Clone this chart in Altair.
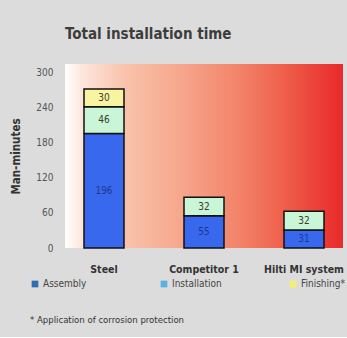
import altair as alt
import pandas as pd

FONT = "Liberation Sans Narrow, DejaVu Sans Condensed, sans-serif"

categories = ["Steel", "Competitor 1", "Hilti MI system"]
segments = ["Assembly", "Installation", "Finishing*"]
assembly = [196, 55, 31]
installation = [46, 32, 32]
finishing = [30, None, None]

bar_colors = ["#3768ee", "#c9f6d6", "#f8f4a2"]
legend_colors = ["#2f6eb5", "#55b3df", "#f6ee6e"]
y_ticks = [0, 60, 120, 180, 240, 300]

rows = []
for i, c in enumerate(categories):
    for j, (seg, vals) in enumerate(zip(segments, [assembly, installation, finishing])):
        if vals[i] is not None:
            rows.append({"category": c, "segment": seg, "value": vals[i], "order": j})
df = pd.DataFrame(rows)
legend_df = pd.DataFrame({"entry": segments})

W, H = 278, 184

grad = alt.LinearGradient(
    gradient="linear",
    stops=[
        alt.GradientStop(color="#ffffff", offset=0),
        alt.GradientStop(color="#fde6dc", offset=0.06),
        alt.GradientStop(color="#f9c2ab", offset=0.22),
        alt.GradientStop(color="#f6a68c", offset=0.42),
        alt.GradientStop(color="#f3846a", offset=0.62),
        alt.GradientStop(color="#ef5c48", offset=0.8),
        alt.GradientStop(color="#e8292a", offset=1),
    ],
    x1=0, x2=1, y1=0, y2=0,
)

bg = alt.Chart(alt.Data(values=[{"bg": 1}])).mark_rect(color=grad).encode(
    x=alt.value(0), x2=alt.value("width"), y=alt.value(0), y2=alt.value("height")
)

x_axis = alt.Axis(
    title=None, labelAngle=0, ticks=False, domain=False, labelPadding=16,
    labelFont=FONT, labelFontSize=10.5, labelFontWeight="bold", labelColor="#333333",
)
y_axis = alt.Axis(
    title="Man-minutes", values=y_ticks, ticks=False, domain=False, grid=False,
    labelOverlap=False,
    labelPadding=12, labelFont=FONT, labelFontSize=10, labelColor="#555555",
    titleFont=FONT, titleFontSize=11.5, titleFontWeight="bold", titleColor="#333333",
    titlePadding=14,
)
x_scale = alt.Scale(domain=categories, paddingInner=0.6, paddingOuter=0.19)
y_scale = alt.Scale(domain=[0, 315], nice=False)

bars = alt.Chart(df).mark_bar(stroke="#111111", strokeWidth=1.5).encode(
    x=alt.X("category:N", sort=categories, scale=x_scale, axis=x_axis),
    y=alt.Y("value:Q", stack="zero", scale=y_scale, axis=y_axis),
    color=alt.Color("segment:N", scale=alt.Scale(domain=segments, range=bar_colors), legend=None),
    order=alt.Order("order:Q"),
)

labels = alt.Chart(df).transform_stack(
    stack="value", as_=["v0", "v1"], groupby=["category"], sort=[alt.SortField("order")]
).transform_calculate(
    mid="(datum.v0 + datum.v1) / 2"
).mark_text(font=FONT, fontSize=10, baseline="middle").encode(
    x=alt.X("category:N", sort=categories, scale=x_scale, axis=x_axis),
    y=alt.Y("mid:Q", scale=y_scale, axis=y_axis),
    text=alt.Text("value:Q"),
    color=alt.condition(alt.datum.segment == "Assembly", alt.value("#1d3a8f"), alt.value("#3c3c2c")),
)

legend_layer = alt.Chart(legend_df).mark_square(fillOpacity=0, strokeOpacity=0).encode(
    fill=alt.Fill(
        "entry:N",
        sort=segments,
        scale=alt.Scale(domain=segments, range=legend_colors),
        legend=alt.Legend(
            title="* Application of corrosion protection",
            titleOrient="bottom", titleAnchor="start", titleFont=FONT, titleFontSize=9.5,
            titleFontWeight="normal", titleColor="#333333", titlePadding=26,
            orient="none", legendX=-35, legendY=215, direction="horizontal",
            gridAlign="all", columnPadding=66, symbolType="square", symbolSize=45,
            symbolOpacity=1, symbolStrokeWidth=0,
            labelFont=FONT, labelFontSize=10, labelColor="#444444", labelOffset=3,
        ),
    )
)

chart = alt.layer(bg, bars, labels, legend_layer).resolve_scale(color="independent").properties(
    width=W, height=H,
    title=alt.TitleParams(
        "Total installation time", anchor="start", frame="group", font=FONT, fontSize=15,
        fontWeight="bold", color="#3d3d3d", offset=22,
    ),
    padding={"left": 10, "top": 27, "right": 2, "bottom": 12},
    background="#dcdcdc",
).configure_view(stroke=None)

chart.save("out.html", embed_options={"renderer": "svg", "actions": False})
